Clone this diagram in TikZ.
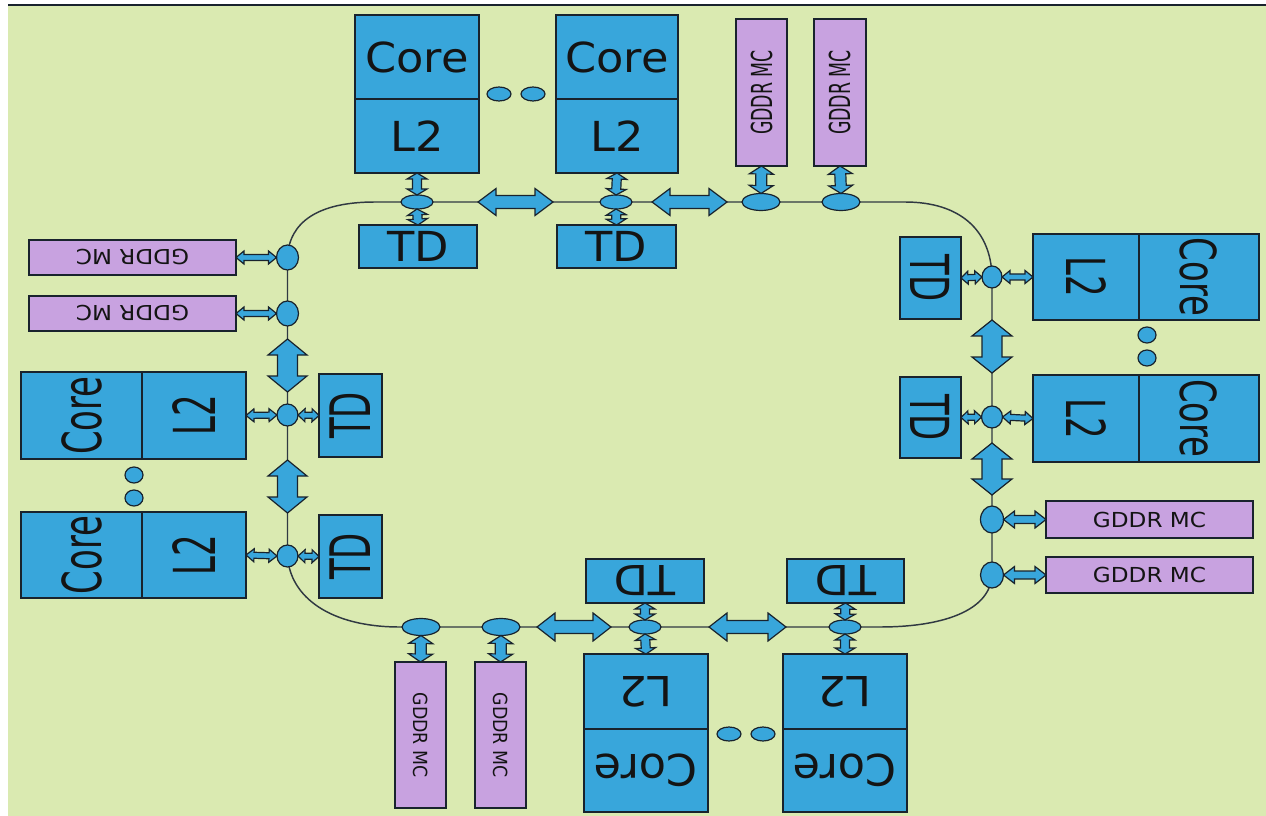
\documentclass[tikz,border=0pt]{standalone}
\usepackage{fontspec}
\setmainfont{DejaVu Sans}
\usepackage{graphicx}
\usetikzlibrary{calc,shapes.geometric}
\definecolor{bgc}{RGB}{218,234,177}
\definecolor{blu}{RGB}{56,166,219}
\definecolor{lav}{RGB}{200,162,224}
\definecolor{edgec}{RGB}{25,35,45}
\pgfdeclarelayer{back}
\pgfdeclarelayer{ringlayer}
\pgfsetlayers{back,ringlayer,main}
\tikzset{
  box/.style={draw=edgec, line width=1.3pt, fill=blu, inner sep=0pt, outer sep=0pt, text=black!92},
  mc/.style={box, fill=lav},
  stop/.style={ellipse, draw=edgec, line width=0.9pt, fill=blu, inner sep=0pt, outer sep=0pt},
  sz/.style 2 args={minimum width=#1*0.75pt, minimum height=#2*0.75pt},
  fat/.style={draw=edgec, line width=0.9pt, fill=blu, line join=miter},
  ringline/.style={draw=edgec!90, line width=1.1pt},
}
\newcommand\lbl[4]{\rotatebox{#1}{\scalebox{#2}[#3]{\fontsize{31}{31}\selectfont #4}}}
% #2 start, #3 end, #4 head half width, #5 shaft half width, #6 head length (px)
\newcommand\fatarrow[6][]{%
  \draw[fat,#1] let \p1=#2, \p2=#3, \n1={atan2(\y2-\y1,\x2-\x1)}, \n2={veclen(\x2-\x1,\y2-\y1)} in
    [shift={(\p1)}, rotate=\n1]
    (0pt,0pt) -- ({#6*0.75pt},{#4*0.75pt}) -- ({#6*0.75pt},{#5*0.75pt})
    -- ({\n2*1pt-#6*0.75pt},{#5*0.75pt}) -- ({\n2*1pt-#6*0.75pt},{#4*0.75pt})
    -- ({\n2*1pt},0pt)
    -- ({\n2*1pt-#6*0.75pt},{-#4*0.75pt}) -- ({\n2*1pt-#6*0.75pt},{-#5*0.75pt})
    -- ({#6*0.75pt},{-#5*0.75pt}) -- ({#6*0.75pt},{-#4*0.75pt}) -- cycle;
}
\begin{document}
\begin{tikzpicture}[x=0.75pt,y=-0.75pt]
\useasboundingbox (0,0) rectangle (1266,816);
\begin{pgfonlayer}{back}
  \fill[white] (0,0) rectangle (1266,816);
  \fill[bgc] (8,5) rectangle (1266,816);
  \draw[edgec, line width=1.5pt] (8,5) -- (1266,5);
\end{pgfonlayer}

% ---------- top ----------
\node[box, sz={124}{84}] (tc1) at (417,57) {\lbl{0}{1.08}{1}{Core}};
\node[box, sz={124}{74}] (tl1) at (417,136) {\lbl{0}{1.08}{1}{L2}};
\node[box, sz={122}{84}] (tc2) at (617,57) {\lbl{0}{1.08}{1}{Core}};
\node[box, sz={122}{74}] (tl2) at (617,136) {\lbl{0}{1.08}{1}{L2}};
\node[box, sz={118}{43}] (tt1) at (418,246.5) {\lbl{0}{1.08}{1}{TD}};
\node[box, sz={119}{43}] (tt2) at (616.5,246.5) {\lbl{0}{1.08}{1}{TD}};
\node[stop, sz={32}{14}] (tn1) at (417,202) {};
\node[stop, sz={32}{14}] (tn2) at (616,202) {};
\node[mc, sz={51}{147}] (tm1) at (761.5,92.5) {\lbl{90}{0.42}{0.7}{GDDR MC}};
\node[mc, sz={52}{147}] (tm2) at (840,92.5) {\lbl{90}{0.42}{0.7}{GDDR MC}};
\node[stop, sz={38}{17}] (tg1) at (761,202) {};
\node[stop, sz={38}{17}] (tg2) at (841,202) {};
\node[stop, sz={24}{14}] (tdot1) at (499,94) {};
\node[stop, sz={24}{14}] (tdot2) at (533,94) {};
\coordinate (ta1) at (478,202);
\coordinate (ta2) at (553,202);
\coordinate (tb1) at (652,202);
\coordinate (tb2) at (727,202);

% ---------- right ----------
\node[box, sz={61}{82}] (rt1) at (930.5,278) {\lbl{-90}{0.82}{1.3}{TD}};
\node[box, sz={61}{81}] (rt2) at (930.5,417.5) {\lbl{-90}{0.82}{1.3}{TD}};
\node[box, sz={106}{86}] (rl1) at (1086,277) {\lbl{-90}{0.82}{1.3}{L2}};
\node[box, sz={120}{86}] (rc1) at (1199,277) {\lbl{-90}{0.82}{1.2}{Core}};
\node[box, sz={106}{87}] (rl2) at (1086,418.5) {\lbl{-90}{0.82}{1.3}{L2}};
\node[box, sz={120}{87}] (rc2) at (1199,418.5) {\lbl{-90}{0.82}{1.2}{Core}};
\node[stop, sz={20}{22}] (rn1) at (992,277) {};
\node[stop, sz={21}{22}] (rn2) at (992,417) {};
\node[stop, sz={23}{27}] (rg1) at (992,519.5) {};
\node[stop, sz={23}{26}] (rg2) at (992,575) {};
\node[mc, sz={207}{37}] (rm1) at (1149.5,519.5) {\lbl{0}{0.56}{0.5}{GDDR MC}};
\node[mc, sz={207}{36}] (rm2) at (1149.5,575) {\lbl{0}{0.56}{0.5}{GDDR MC}};
\node[stop, sz={18}{16}] (rdot1) at (1147,335) {};
\node[stop, sz={18}{16}] (rdot2) at (1147,358) {};
\coordinate (ra1) at (992,320);
\coordinate (ra2) at (992,373);
\coordinate (rb1) at (992,443);
\coordinate (rb2) at (992,495);

% ---------- bottom ----------
\node[box, sz={118}{44}] (bt1) at (645,581) {\lbl{180}{1.08}{1}{TD}};
\node[box, sz={117}{44}] (bt2) at (845.5,581) {\lbl{180}{1.08}{1}{TD}};
\node[box, sz={124}{75}] (bl1) at (646,691.5) {\lbl{180}{1.08}{1}{L2}};
\node[box, sz={124}{83}] (bc1) at (646,770.5) {\lbl{180}{1.08}{1.05}{Core}};
\node[box, sz={124}{75}] (bl2) at (845,691.5) {\lbl{180}{1.08}{1}{L2}};
\node[box, sz={124}{83}] (bc2) at (845,770.5) {\lbl{180}{1.08}{1.05}{Core}};
\node[stop, sz={32}{14}] (bn1) at (645,627) {};
\node[stop, sz={32}{14}] (bn2) at (845,627) {};
\node[mc, sz={51}{146}] (bm1) at (420.5,735) {\lbl{-90}{0.42}{0.47}{GDDR MC}};
\node[mc, sz={51}{146}] (bm2) at (500.5,735) {\lbl{-90}{0.42}{0.47}{GDDR MC}};
\node[stop, sz={38}{17}] (bg1) at (421,627) {};
\node[stop, sz={38}{17}] (bg2) at (501,627) {};
\node[stop, sz={24}{14}] (bdot1) at (729,734) {};
\node[stop, sz={24}{14}] (bdot2) at (763,734) {};
\coordinate (ba1) at (537,627);
\coordinate (ba2) at (611,627);
\coordinate (bb1) at (709,627);
\coordinate (bb2) at (786,627);

% ---------- left ----------
\node[mc, sz={207}{35}] (lm1) at (132.5,257.5) {\lbl{180}{0.56}{0.5}{GDDR MC}};
\node[mc, sz={207}{35}] (lm2) at (132.5,313.5) {\lbl{180}{0.56}{0.5}{GDDR MC}};
\node[stop, sz={22}{25}] (lg1) at (287.5,257.5) {};
\node[stop, sz={22}{25}] (lg2) at (287.5,313.5) {};
\node[box, sz={121}{87}] (lc1) at (81.5,415.5) {\lbl{90}{0.82}{1.3}{Core}};
\node[box, sz={104}{87}] (ll1) at (194,415.5) {\lbl{90}{0.82}{1.4}{L2}};
\node[box, sz={121}{86}] (lc2) at (81.5,555) {\lbl{90}{0.82}{1.3}{Core}};
\node[box, sz={104}{86}] (ll2) at (194,555) {\lbl{90}{0.82}{1.4}{L2}};
\node[stop, sz={18}{16}] (ldot1) at (134,475) {};
\node[stop, sz={18}{16}] (ldot2) at (134,498) {};
\node[stop, sz={21}{22}] (ln1) at (287.5,415) {};
\node[stop, sz={21}{22}] (ln2) at (287.5,556) {};
\node[box, sz={63}{83}] (lt1) at (350.5,415.5) {\lbl{90}{0.82}{1.35}{TD}};
\node[box, sz={63}{83}] (lt2) at (350.5,556.5) {\lbl{90}{0.82}{1.35}{TD}};
\coordinate (la1) at (287.5,339);
\coordinate (la2) at (287.5,392);
\coordinate (lb1) at (287.5,460);
\coordinate (lb2) at (287.5,513);

% ---------- ring ----------
\begin{pgfonlayer}{ringlayer}
\draw[ringline] (lg1.center) .. controls (289,222) and (318,202) .. (375,202)
  -- (tn1.center) -- (tn2.center) -- (tg1.center) -- (tg2.center) -- (905,202)
  .. controls (960,202) and (991,230) .. (rn1.center)
  -- (rn2.center) -- (rg1.center) -- (rg2.center)
  .. controls (990,612) and (940,627) .. (880,627)
  -- (bn2.center) -- (bn1.center) -- (bg2.center) -- (bg1.center) -- (400,627)
  .. controls (330,627) and (290,597) .. (ln2.center)
  -- (ln1.center) -- (lg2.center) -- cycle;
\end{pgfonlayer}

% ---------- arrows ----------
% top
\fatarrow{(tl1.south)}{(tn1.north)}{10}{4.5}{6}
\fatarrow{(tn1.south)}{(tt1.north)}{10}{4.5}{6}
\fatarrow{(tl2.south)}{(tn2.north)}{10}{4.5}{6}
\fatarrow{(tn2.south)}{(tt2.north)}{10}{4.5}{6}
\fatarrow{(tm1.south)}{(tg1.north)}{12}{5.5}{8}
\fatarrow{(tm2.south)}{(tg2.north)}{12}{5.5}{8}
\fatarrow{(ta1)}{(ta2)}{13.5}{6.5}{18}
\fatarrow{(tb1)}{(tb2)}{13.5}{6.5}{18}
% right
\fatarrow{(rt1.east)}{(rn1.west)}{6.5}{3}{7}
\fatarrow{(rn1.east)}{(rl1.west)}{6.5}{3}{8}
\fatarrow{(rt2.east)}{(rn2.west)}{6.5}{3}{7}
\fatarrow{(rn2.east)}{(rl2.west)}{6.5}{3}{8}
\fatarrow{(rg1.east)}{(rm1.west)}{8.5}{4}{11}
\fatarrow{(rg2.east)}{(rm2.west)}{8.5}{4}{11}
\fatarrow{(ra1)}{(ra2)}{20}{10}{16}
\fatarrow{(rb1)}{(rb2)}{20}{10}{16}
% bottom
\fatarrow{(bt1.south)}{(bn1.north)}{10}{4.5}{6}
\fatarrow{(bn1.south)}{(bl1.north)}{10}{4.5}{6}
\fatarrow{(bt2.south)}{(bn2.north)}{10}{4.5}{6}
\fatarrow{(bn2.south)}{(bl2.north)}{10}{4.5}{6}
\fatarrow{(bg1.south)}{(bm1.north)}{12}{5.5}{8}
\fatarrow{(bg2.south)}{(bm2.north)}{12}{5.5}{8}
\fatarrow{(ba1)}{(ba2)}{14}{6.5}{18}
\fatarrow{(bb1)}{(bb2)}{14}{6.5}{18}
% left
\fatarrow{(lm1.east)}{(lg1.west)}{6.5}{3}{8}
\fatarrow{(lm2.east)}{(lg2.west)}{6.5}{3}{8}
\fatarrow{(ll1.east)}{(ln1.west)}{6.5}{3}{8}
\fatarrow{(ln1.east)}{(lt1.west)}{6.5}{3}{7}
\fatarrow{(ll2.east)}{(ln2.west)}{6.5}{3}{8}
\fatarrow{(ln2.east)}{(lt2.west)}{6.5}{3}{7}
\fatarrow{(la1)}{(la2)}{19.5}{10}{16}
\fatarrow{(lb1)}{(lb2)}{19.5}{10}{16}
\end{tikzpicture}
\end{document}
